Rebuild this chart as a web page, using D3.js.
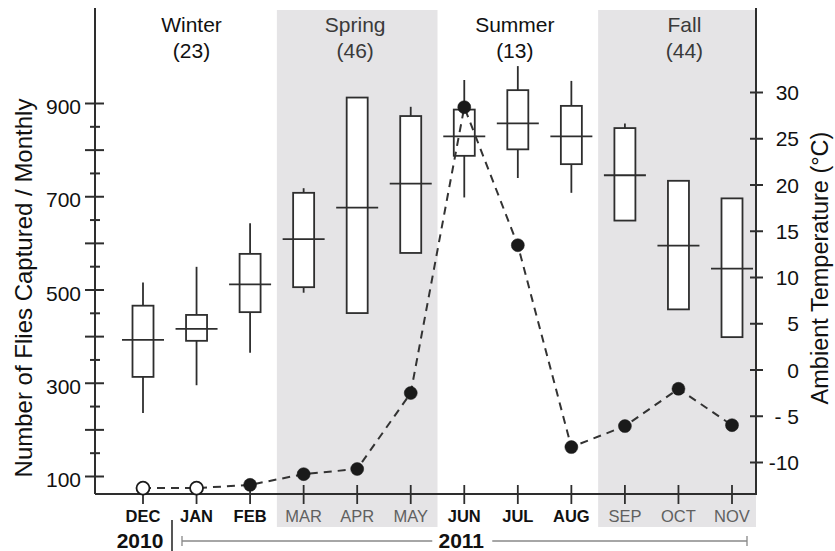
<!DOCTYPE html>
<html>
<head>
<meta charset="utf-8">
<script src="https://cdn.jsdelivr.net/npm/d3@7"></script>
<style>
  html, body { margin: 0; padding: 0; background: #fff; }
  svg { display: block; font-family: "Liberation Sans", Arial, Helvetica, sans-serif; }
</style>
</head>
<body>
<svg id="chart" width="835" height="551"></svg>
<script>
// ---------------- DATA ----------------
const months = ["DEC","JAN","FEB","MAR","APR","MAY","JUN","JUL","AUG","SEP","OCT","NOV"];
// Ambient temperature box plots (°C, right axis)
const tempWhiskerHigh = [9.4, 11.1, 15.8, 19.6, 29.4, 28.4, 31.3, 32.8, 31.2, 26.6, 20.4, 18.5];
const tempQ3          = [6.9,  5.9, 12.5, 19.1, 29.4, 27.4, 28.1, 30.2, 28.5, 26.1, 20.4, 18.5];
const tempMedian      = [3.2,  4.4,  9.2, 14.1, 17.5, 20.1, 25.2, 26.6, 25.2, 21.0, 13.4, 10.9];
const tempQ1          = [-0.8, 3.1,  6.2,  8.9,  6.1, 12.6, 23.1, 23.8, 22.2, 16.1,  6.5,  3.5];
const tempWhiskerLow  = [-4.7,-1.7,  1.8,  8.3,  6.1, 12.6, 18.6, 20.7, 19.1, 16.1,  6.5,  3.5];
// Flies captured per month (left axis)
const fliesCaptured   = [74, 74, 81, 104, 115, 278, 891, 595, 162, 207, 287, 209];
const fliesOpen       = [true, true, false, false, false, false, false, false, false, false, false, false];
// Seasons
const seasonNames  = ["Winter", "Spring", "Summer", "Fall"];
const seasonCounts = ["(23)", "(46)", "(13)", "(44)"];
const seasonMonths = [["DEC","FEB"], ["MAR","MAY"], ["JUN","AUG"], ["SEP","NOV"]];
const seasonShaded = [false, true, false, true];
// Axis ticks
const leftTicks  = d3.range(100, 901, 50);
const leftLabels = [100, 300, 500, 700, 900];
const rightTicks = [-10, -5, 0, 5, 10, 15, 20, 25, 30];
const rightLabels = ["-10", "- 5", "0", "5", "10", "15", "20", "25", "30"];
const years = ["2010", "2011"];

// ---------------- LAYOUT ----------------
const svg = d3.select("#chart");
const leftX = 95, rightX = 756, baseY = 494, topY = 8;
const x = d3.scalePoint().domain(months).range([143, 732]);
const step = x.step();
const yL = d3.scaleLinear().domain([100, 900]).range([476, 103]);
const yR = d3.scaleLinear().domain([-10, 30]).range([462, 92]);
const dark = "#2e2e2e";

// Season shading
seasonMonths.forEach((m, i) => {
  if (!seasonShaded[i]) return;
  const x0 = x(m[0]) - step / 2, x1 = Math.min(x(m[1]) + step / 2, rightX);
  svg.append("rect").attr("x", x0).attr("y", 10).attr("width", x1 - x0).attr("height", 517)
    .attr("fill", "#e5e4e6");
});

// Season labels
seasonMonths.forEach((m, i) => {
  const mid = months[months.indexOf(m[0]) + 1];
  const cx = x(mid) + [-5, -2, -3, 6][i];
  const col = seasonShaded[i] ? "#3a3a3a" : "#111";
  svg.append("text").attr("x", cx).attr("y", 32).attr("text-anchor", "middle")
    .attr("font-size", 21).attr("fill", col).text(seasonNames[i]);
  svg.append("text").attr("x", cx).attr("y", 58).attr("text-anchor", "middle")
    .attr("font-size", 21).attr("fill", col).text(seasonCounts[i]);
});

// Axes lines
svg.append("line").attr("x1", leftX).attr("x2", leftX).attr("y1", topY).attr("y2", baseY)
  .attr("stroke", dark).attr("stroke-width", 2);
svg.append("line").attr("x1", rightX).attr("x2", rightX).attr("y1", topY).attr("y2", baseY)
  .attr("stroke", dark).attr("stroke-width", 2);
svg.append("line").attr("x1", leftX).attr("x2", rightX + 1).attr("y1", baseY).attr("y2", baseY)
  .attr("stroke", dark).attr("stroke-width", 2);

// Left axis
const gL = svg.append("g").attr("transform", `translate(${leftX},0)`)
  .call(d3.axisLeft(yL).tickValues(leftTicks).tickSize(0).tickPadding(14)
    .tickFormat(d => leftLabels.includes(d) ? d : ""));
gL.select(".domain").remove();
gL.selectAll(".tick line")
  .attr("x1", d => d % 100 === 0 ? -10 : -5)
  .attr("x2", d => d % 100 === 0 ? 9 : 5)
  .attr("stroke", dark).attr("stroke-width", 2);
gL.selectAll(".tick text").attr("font-size", 21).attr("fill", "#111")
  .attr("font-family", "Liberation Sans, Arial, sans-serif").attr("dy", "0.5em");

// Right axis
const gR = svg.append("g").attr("transform", `translate(${rightX},0)`)
  .call(d3.axisRight(yR).tickValues(rightTicks).tickSize(0).tickPadding(0)
    .tickFormat((d, i) => rightLabels[i]));
gR.select(".domain").remove();
gR.selectAll(".tick line").attr("x1", -6).attr("x2", 7)
  .attr("stroke", dark).attr("stroke-width", 2);
gR.selectAll(".tick text").attr("font-size", 21).attr("fill", "#111")
  .attr("font-family", "Liberation Sans, Arial, sans-serif")
  .attr("text-anchor", "end").attr("x", 43).attr("dy", "0.36em");

// Axis titles
svg.append("text").attr("transform", "translate(32,288) rotate(-90)")
  .attr("text-anchor", "middle").attr("font-size", 24).attr("fill", "#111")
  .text("Number of Flies Captured / Monthly");
svg.append("text").attr("transform", "translate(828,268) rotate(-90)")
  .attr("text-anchor", "middle").attr("font-size", 23.5).attr("fill", "#111")
  .text("Ambient Temperature (°C)");

// Month ticks & labels
months.forEach((m, i) => {
  svg.append("line").attr("x1", x(m)).attr("x2", x(m)).attr("y1", baseY - 9).attr("y2", baseY + 10)
    .attr("stroke", dark).attr("stroke-width", 1.8);
  const si = seasonMonths.findIndex(s => i >= months.indexOf(s[0]) && i <= months.indexOf(s[1]));
  const shaded = seasonShaded[si];
  svg.append("text").attr("x", x(m)).attr("y", 522).attr("text-anchor", "middle")
    .attr("font-size", 16.5).attr("font-weight", shaded ? "normal" : "bold")
    .attr("fill", shaded ? "#606060" : "#111").text(m);
});

// Box plots (temperature)
const boxW = 21, medW = 42;
const boxes = svg.append("g");
months.forEach((m, i) => {
  const cx = x(m);
  boxes.append("line").attr("x1", cx).attr("x2", cx)
    .attr("y1", yR(tempWhiskerHigh[i])).attr("y2", yR(tempWhiskerLow[i]))
    .attr("stroke", dark).attr("stroke-width", 1.8);
  boxes.append("rect").attr("x", cx - boxW / 2).attr("y", yR(tempQ3[i]))
    .attr("width", boxW).attr("height", yR(tempQ1[i]) - yR(tempQ3[i]))
    .attr("fill", "#fff").attr("stroke", dark).attr("stroke-width", 1.8);
  boxes.append("line").attr("x1", cx - medW / 2).attr("x2", cx + medW / 2)
    .attr("y1", yR(tempMedian[i])).attr("y2", yR(tempMedian[i]))
    .attr("stroke", dark).attr("stroke-width", 1.8);
});

// Flies line & points
const line = d3.line().x((d, i) => x(months[i])).y(d => yL(d));
svg.append("path").datum(fliesCaptured).attr("d", line)
  .attr("fill", "none").attr("stroke", "#333").attr("stroke-width", 2)
  .attr("stroke-dasharray", "8,6");
svg.selectAll("circle.pt").data(fliesCaptured).enter().append("circle")
  .attr("class", "pt")
  .attr("cx", (d, i) => x(months[i])).attr("cy", d => yL(d)).attr("r", 6.5)
  .attr("fill", (d, i) => fliesOpen[i] ? "#fff" : "#1a1a1a")
  .attr("stroke", "#1a1a1a").attr("stroke-width", (d, i) => fliesOpen[i] ? 1.8 : 0.5);

// Year annotations
svg.append("text").attr("x", 140).attr("y", 548).attr("text-anchor", "middle")
  .attr("font-size", 21).attr("font-weight", "bold").attr("fill", "#111").text(years[0]);
svg.append("line").attr("x1", 172).attr("x2", 172).attr("y1", 520).attr("y2", 551)
  .attr("stroke", "#444").attr("stroke-width", 1.8);
const y2011x = x("JUN") - 3;
svg.append("text").attr("x", y2011x).attr("y", 548).attr("text-anchor", "middle")
  .attr("font-size", 21).attr("font-weight", "bold").attr("fill", "#111").text(years[1]);
const bx0 = 182, bx1 = 747, by = 541;
svg.append("line").attr("x1", bx0).attr("x2", y2011x - 29).attr("y1", by).attr("y2", by)
  .attr("stroke", "#888").attr("stroke-width", 1.3);
svg.append("line").attr("x1", y2011x + 31).attr("x2", bx1).attr("y1", by).attr("y2", by)
  .attr("stroke", "#888").attr("stroke-width", 1.3);
[bx0, bx1].forEach(bx => svg.append("line").attr("x1", bx).attr("x2", bx)
  .attr("y1", by - 5).attr("y2", by + 5).attr("stroke", "#888").attr("stroke-width", 1.3));
</script>
</body>
</html>
